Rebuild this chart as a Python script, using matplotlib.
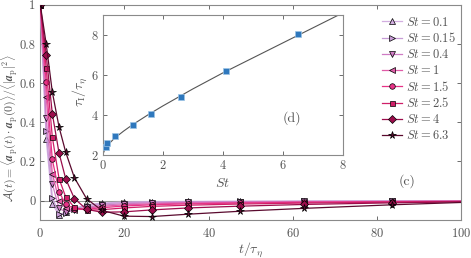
import matplotlib
matplotlib.use("Agg")
import matplotlib.pyplot as plt
import numpy as np

plt.rcParams['font.family'] = 'serif'
plt.rcParams['font.serif'] = ['cmr10', 'DejaVu Serif']
plt.rcParams['mathtext.fontset'] = 'cm'
plt.rcParams['axes.formatter.use_mathtext'] = True

# ---- data ----
times = [0, 1.4, 2.85, 4.45, 6.05, 8.1, 11.0, 14.6, 19.9, 26.5, 35.1, 47.4, 62.8, 83.5, 100]
st_labels = ['0.1', '0.15', '0.4', '1', '1.5', '2.5', '4', '6.3']
A_st01  = [1, 0.315, -0.02, -0.072, -0.06, -0.04, -0.022, -0.013, -0.008, -0.006, -0.005, -0.004, -0.003, -0.002, -0.002]
A_st015 = [1, 0.354, 0.015, -0.07, -0.065, -0.045, -0.027, -0.017, -0.011, -0.008, -0.006, -0.005, -0.004, -0.003, -0.002]
A_st04  = [1, 0.42, 0.085, -0.04, -0.058, -0.05, -0.035, -0.024, -0.016, -0.012, -0.009, -0.007, -0.005, -0.004, -0.003]
A_st1   = [1, 0.53, 0.138, 0.0, -0.04, -0.048, -0.04, -0.03, -0.022, -0.017, -0.013, -0.01, -0.007, -0.005, -0.004]
A_st15  = [1, 0.605, 0.21, 0.045, -0.02, -0.042, -0.045, -0.037, -0.028, -0.022, -0.017, -0.013, -0.009, -0.006, -0.004]
A_st25  = [1, 0.677, 0.325, 0.112, 0.017, -0.035, -0.05, -0.047, -0.038, -0.03, -0.024, -0.018, -0.013, -0.008, -0.005]
A_st4   = [1, 0.745, 0.444, 0.243, 0.11, 0.01, -0.045, -0.06, -0.058, -0.048, -0.038, -0.029, -0.02, -0.012, -0.007]
A_st63  = [1, 0.80, 0.555, 0.376, 0.246, 0.117, 0.009, -0.05, -0.08, -0.082, -0.07, -0.055, -0.04, -0.022, -0.01]
series = [A_st01, A_st015, A_st04, A_st1, A_st15, A_st25, A_st4, A_st63]

# inset
inset_st = [0.1, 0.15, 0.4, 1.0, 1.6, 2.6, 4.1, 6.5]
inset_tau = [2.42, 2.58, 2.97, 3.52, 4.03, 4.9, 6.2, 8.07]
fit_st = [0, 0.05, 0.1, 0.2, 0.4, 0.7, 1, 1.5, 2, 3, 4, 5, 6, 7, 8]
fit_tau = [2.0, 2.2, 2.33, 2.55, 2.85, 3.2, 3.52, 4.0, 4.45, 5.3, 6.1, 6.85, 7.6, 8.35, 9.1]

# ---- styles ----
colors = ['#d2aee0', '#c79bd6', '#cf7cc4', '#e05ca8', '#e73387', '#cf1f68', '#9c0d4c', '#5a0a2e']
markers = ['^', '>', 'v', '<', 'o', 's', 'D', '*']
msizes = [4, 4, 4, 4, 4, 3.6, 3.6, 5.5]

gray = '#555555'
spine_c = '#8a8a8a'

fig = plt.figure(figsize=(4.71, 2.58), dpi=100)
ax = fig.add_axes([0.0856, 0.147, 0.893, 0.834])
ax.axhline(0, color='#999999', lw=0.8, zorder=1)
n = len(times)
for A, c, m, ms, lab in zip(series, colors, markers, msizes, st_labels):
    ax.plot(times, A, color=c, lw=0.9, marker=m, ms=ms, mfc=c, mec='black',
            mew=0.5, markevery=list(range(n - 1)), label=r'$St=%s$' % lab, zorder=3)
ax.set_xlim(0, 100)
ax.set_ylim(-0.1, 1.0)
ax.set_xticks([0, 20, 40, 60, 80, 100])
ax.set_yticks([0, 0.2, 0.4, 0.6, 0.8, 1])
ax.set_yticklabels(['0', '0.2', '0.4', '0.6', '0.8', '1'])
ax.tick_params(direction='in', top=True, right=True, labelsize=9, colors=gray,
               length=3, width=0.6)
ax.tick_params(axis='x', pad=5)
for s in ax.spines.values():
    s.set_color(spine_c)
    s.set_linewidth(0.8)
ax.set_xlabel(r'$t/\tau_\eta$', fontsize=10, color=gray)
ax.xaxis.set_label_coords(0.5, -0.093)
ax.set_ylabel(r'$\mathcal{A}(t)=\langle \boldsymbol{a}_{\rm p}(t)\cdot\boldsymbol{a}_{\rm p}(0)\rangle/\langle|\boldsymbol{a}_{\rm p}|^2\rangle$',
              fontsize=8.5, color=gray)
ax.yaxis.set_label_coords(-0.048, 0.43)
leg = ax.legend(loc='upper right', bbox_to_anchor=(1.005, 0.985), frameon=False, fontsize=9,
                handlelength=1.6, handletextpad=0.3, labelspacing=0.22, borderaxespad=0.2)
for t in leg.get_texts():
    t.set_color(gray)
ax.text(87.2, 0.098, '(c)', fontsize=10, color=gray, ha='center', va='center')

# inset
ia = fig.add_axes([0.218, 0.399, 0.5096, 0.543])
ia.plot(fit_st, fit_tau, color='#555555', lw=0.8, zorder=2)
ia.plot(inset_st, inset_tau, ls='none', marker='s', ms=4.0, mfc='#2f78bd', mec='#9cc4e6',
        mew=0.5, zorder=3)
ia.set_xlim(0, 8)
ia.set_ylim(2, 9)
ia.set_xticks([0, 2, 4, 6, 8])
ia.set_yticks([2, 4, 6, 8])
ia.tick_params(direction='in', top=True, right=True, labelsize=9, colors=gray,
               length=3, width=0.6, pad=3)
for s in ia.spines.values():
    s.set_color(spine_c)
    s.set_linewidth(0.8)
ia.set_xlabel(r'$St$', fontsize=10, color=gray)
ia.xaxis.set_label_coords(0.5, -0.157)
ia.set_ylabel(r'$\tau_{\rm I}/\tau_\eta$', fontsize=10, color=gray)
ia.yaxis.set_label_coords(-0.057, 0.45)
ia.text(6.3, 3.84, '(d)', fontsize=10, color=gray, ha='center', va='center')

fig.savefig('out.png', dpi=100)
